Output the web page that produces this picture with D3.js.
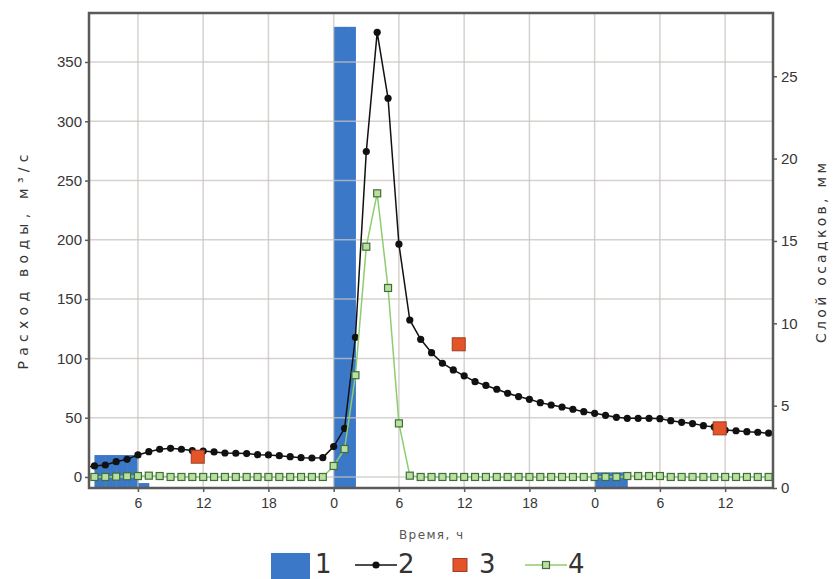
<!DOCTYPE html>
<html>
<head>
<meta charset="utf-8">
<script src="https://cdn.jsdelivr.net/npm/d3@7"></script>
<style>
  body { margin: 0; background: #fff; }
  svg { display: block; font-family: "DejaVu Sans", sans-serif; }
  .axis .tick text { fill: #363636; }
  .axis .tick line { stroke: #5a5a5a; stroke-width: 1.5; }
  .axis .domain { display: none; }
  .grid line { stroke: #c9c4bf; stroke-width: 1.5; opacity: 0.75; }
</style>
</head>
<body>
<svg id="chart"></svg>
<script>
// hours counted from midnight of the first day
const HOURS = [1, 2, 3, 4, 5, 6, 7, 8, 9, 10, 11, 12, 13, 14, 15, 16, 17, 18, 19, 20, 21, 22, 23, 24,
               25, 26, 27, 28, 29, 30, 31, 32, 33, 34, 35, 36, 37, 38, 39, 40, 41, 42, 43, 44, 45, 46, 47, 48,
               49, 50, 51, 52, 53, 54, 55, 56, 57, 58, 59, 60, 61, 62, 63, 64];

// 2 - water discharge, m3/s
const FLOW = [8, 9.3, 10.1, 12.9, 14.9, 18.6, 21.3, 23.4, 24.2, 23.4, 22.3, 21.9, 21.1, 20.2, 20, 19.7, 18.8, 18.6, 18, 17.1, 16.3, 16, 16.3, 25.6,
              41, 117.8, 274.4, 375, 319.4, 196.3, 132.4, 116.1, 104.8, 95.9, 90.3, 85.3, 80.4, 77.2, 74, 70.6, 67.8, 65.5, 62.7, 60.7, 59, 57.1, 55.1, 53.7,
              52, 50.3, 49.5, 49.5, 49.5, 49.2, 47.5, 46.1, 45, 43.3, 42.2, 39.6, 39, 38.2, 37.7, 36.9];

// 4 - green series, m3/s
const RUNOFF = [0, 0, 0, 0.3, 0.6, 0.8, 1.1, 0.8, 0, 0, 0, 0, 0, 0, 0, 0, 0, 0, 0, 0, 0, 0, 0, 9.3,
                23.6, 85.8, 194.2, 239.2, 159.4, 45.2, 1.1, 0, 0, 0, 0, 0, 0, 0, 0, 0, 0, 0, 0, 0, 0, 0, 0, 0,
                0, 0, 0.8, 0.8, 0.8, 0.8, 0, 0, 0, 0, 0, 0, 0, 0, 0, 0];

// 1 - precipitation per hour, mm
const RAIN_HOURS = [2, 3, 4, 5, 6, 24, 25, 48, 49, 50];
const RAIN_MM = [2, 2, 2, 2, 0.3, 28, 28, 0.95, 0.95, 0.95];

// 3 - observed discharge, m3/s
const OBS_HOURS = [11.5, 35.5, 59.5];
const OBS_FLOW = [17.1, 111.9, 41];

const X_TICKS = [6, 12, 18, 24, 30, 36, 42, 48, 54, 60];
const X_TICK_LABELS = ["6", "12", "18", "0", "6", "12", "18", "0", "6", "12"];
const FLOW_TICKS = [0, 50, 100, 150, 200, 250, 300, 350];
const RAIN_TICKS = [0, 5, 10, 15, 20, 25];
const LEGEND_LABELS = ["1", "2", "3", "4"];

const BLUE = "#3b78c8";
const RED = "#e4542a";
const GREEN = "#8cce6e";

const MARGIN = {top: 13, right: 60, bottom: 91, left: 89};
const CHART_WIDTH = 833 - MARGIN.left - MARGIN.right;
const CHART_HEIGHT = 579 - MARGIN.top - MARGIN.bottom;

let x = d3.scaleLinear().domain([1.5, 64.4]).range([0, CHART_WIDTH]);
let yFlow = d3.scaleLinear().domain([-9.3, 391.3]).range([CHART_HEIGHT, 0]);
let yRain = d3.scaleLinear().domain([0, 28.84]).range([CHART_HEIGHT, 0]);

let svg = d3.select("#chart")
            .attr("width", 833)
            .attr("height", 579);

let chart = svg.append("g")
               .attr("transform", `translate(${MARGIN.left},${MARGIN.top})`);

chart.append("clipPath")
     .attr("id", "plot-clip")
     .append("rect")
     .attr("width", CHART_WIDTH)
     .attr("height", CHART_HEIGHT);

let plot = chart.append("g").attr("clip-path", "url(#plot-clip)");

/*
  Rain bars, one per hour, on the right axis.
*/
plot.append("g")
    .selectAll("rect")
    .data(RAIN_HOURS)
    .enter().append("rect")
    .attr("x", d => x(d))
    .attr("width", d => x(d + 1) - x(d) + 0.5)
    .attr("y", (d, i) => yRain(RAIN_MM[i]))
    .attr("height", (d, i) => CHART_HEIGHT - yRain(RAIN_MM[i]))
    .attr("fill", BLUE);

/*
  Grid drawn over the bars (it shows through them in the original).
*/
let grid = plot.append("g").attr("class", "grid");

grid.selectAll(".h")
    .data(FLOW_TICKS)
    .enter().append("line")
    .attr("x1", 0).attr("x2", CHART_WIDTH)
    .attr("y1", d => yFlow(d)).attr("y2", d => yFlow(d));

grid.selectAll(".v")
    .data(X_TICKS)
    .enter().append("line")
    .attr("y1", 0).attr("y2", CHART_HEIGHT)
    .attr("x1", d => x(d)).attr("x2", d => x(d));

// 2 - discharge
plot.append("path")
    .datum(HOURS)
    .attr("fill", "none")
    .attr("stroke", "#111")
    .attr("stroke-width", 1.5)
    .attr("d", d3.line().x(d => x(d)).y((d, i) => yFlow(FLOW[i])));

plot.append("g")
    .selectAll("circle")
    .data(HOURS)
    .enter().append("circle")
    .attr("cx", d => x(d))
    .attr("cy", (d, i) => yFlow(FLOW[i]))
    .attr("r", 3.6)
    .attr("fill", "#111");

// 4 - green series
plot.append("path")
    .datum(HOURS)
    .attr("fill", "none")
    .attr("stroke", GREEN)
    .attr("stroke-width", 1.5)
    .attr("d", d3.line().x(d => x(d)).y((d, i) => yFlow(RUNOFF[i])));

plot.append("g")
    .selectAll("rect")
    .data(HOURS)
    .enter().append("rect")
    .attr("x", d => x(d) - 3.5)
    .attr("y", (d, i) => yFlow(RUNOFF[i]) - 3.5)
    .attr("width", 7)
    .attr("height", 7)
    .attr("fill", "#b9dfa3")
    .attr("stroke", "#3f6e36")
    .attr("stroke-width", 1.2);

// 3 - observed
plot.append("g")
    .selectAll("rect")
    .data(OBS_HOURS)
    .enter().append("rect")
    .attr("x", d => x(d) - 6.5)
    .attr("y", (d, i) => yFlow(OBS_FLOW[i]) - 6.5)
    .attr("width", 13)
    .attr("height", 13)
    .attr("fill", RED)
    .attr("stroke", "#9a3f22")
    .attr("stroke-width", 1);

/*
  Axes and frame.
*/
chart.append("g")
     .attr("class", "axis")
     .call(d3.axisLeft(yFlow).tickValues(FLOW_TICKS).tickSize(4).tickPadding(3))
     .selectAll("text").style("font-size", "15px");

chart.append("g")
     .attr("class", "axis")
     .attr("transform", `translate(${CHART_WIDTH},0)`)
     .call(d3.axisRight(yRain).tickValues(RAIN_TICKS).tickSize(4).tickPadding(4))
     .selectAll("text").style("font-size", "15px");

chart.append("g")
     .attr("class", "axis")
     .attr("transform", `translate(0,${CHART_HEIGHT})`)
     .call(d3.axisBottom(x).tickValues(X_TICKS).tickSize(4).tickPadding(6)
             .tickFormat((d, i) => X_TICK_LABELS[i]))
     .selectAll("text").style("font-size", "14px");

chart.append("rect")
     .attr("width", CHART_WIDTH)
     .attr("height", CHART_HEIGHT)
     .attr("fill", "none")
     .attr("stroke", "#5a5a5a")
     .attr("stroke-width", 2.5);

svg.append("text")
   .attr("transform", "translate(28,262) rotate(-90)")
   .attr("text-anchor", "middle")
   .attr("textLength", 215)
   .attr("lengthAdjust", "spacing")
   .style("font-size", "14px")
   .attr("fill", "#363636")
   .text("Расход воды, м³/с");

svg.append("text")
   .attr("transform", "translate(826,253) rotate(-90)")
   .attr("text-anchor", "middle")
   .attr("textLength", 180)
   .attr("lengthAdjust", "spacing")
   .style("font-size", "14px")
   .attr("fill", "#363636")
   .text("Слой осадков, мм");

svg.append("text")
   .attr("x", MARGIN.left + CHART_WIDTH / 2)
   .attr("y", 539)
   .attr("text-anchor", "middle")
   .attr("textLength", 64)
   .attr("lengthAdjust", "spacing")
   .style("font-size", "12px")
   .attr("fill", "#555")
   .text("Время, ч");

/*
  Legend row under the chart.
*/
const buildLegend = () => {
  const LEGEND_X = [271, 355, 453, 525];
  const LEGEND_Y = 565;

  let item = svg.append("g")
                .selectAll("g")
                .data(LEGEND_LABELS)
                .enter().append("g")
                .attr("transform", (d, i) => `translate(${LEGEND_X[i]},${LEGEND_Y})`);

  item.filter((d, i) => i === 0).append("rect")
      .attr("x", 0).attr("y", -12).attr("width", 39).attr("height", 28)
      .attr("fill", BLUE);

  item.filter((d, i) => i === 1).each(function() {
    let g = d3.select(this);
    g.append("line").attr("x1", 0).attr("x2", 42).attr("stroke", "#111").attr("stroke-width", 1.5);
    g.append("circle").attr("cx", 21).attr("r", 3.6).attr("fill", "#111");
  });

  item.filter((d, i) => i === 2).append("rect")
      .attr("x", 0).attr("y", -6.5).attr("width", 14).attr("height", 13)
      .attr("fill", RED).attr("stroke", "#9a3f22");

  item.filter((d, i) => i === 3).each(function() {
    let g = d3.select(this);
    g.append("line").attr("x1", 0).attr("x2", 42).attr("stroke", GREEN).attr("stroke-width", 1.5);
    g.append("rect").attr("x", 17.5).attr("y", -3.5).attr("width", 7).attr("height", 7)
     .attr("fill", "#b9dfa3").attr("stroke", "#3f6e36").attr("stroke-width", 1.2);
  });

  const TEXT_DX = [44, 43, 26, 43];
  item.append("text")
      .attr("x", (d, i) => TEXT_DX[i])
      .attr("y", 8)
      .style("font-size", "26px")
      .attr("fill", "#333")
      .text(d => d);
}

buildLegend();
</script>
</body>
</html>
